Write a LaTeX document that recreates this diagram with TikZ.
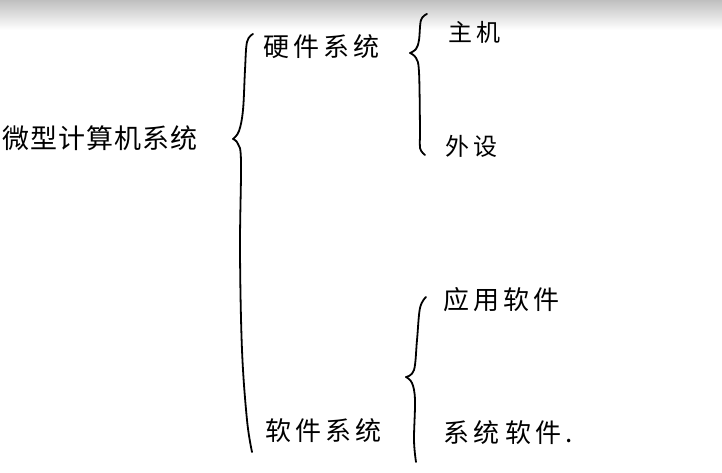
\documentclass[tikz,border=0pt]{standalone}
\usepackage{fontspec}
\newfontfamily\cjk[LetterSpace=16]{Noto Sans CJK SC}
\newfontfamily\cjkplain[LetterSpace=4]{Noto Sans CJK SC}
\begin{document}
\begin{tikzpicture}[x=1pt,y=-1pt,
  lbl/.style={font=\cjk\fontsize{26}{30}\selectfont, inner sep=0pt, anchor=west},
  brace/.style={line width=1.8pt, line cap=round, line join=round}]
\useasboundingbox (0,0) rectangle (722,473);
\fill[white] (0,0) rectangle (722,473);
\shade[top color=black!25, bottom color=white] (0,0) rectangle (722,30);
% texts
\node[lbl, anchor=west, font=\cjkplain\fontsize{27}{32}\selectfont] (root) at (2,138) {微型计算机系统};
\node[lbl] (hw) at (263,47) {硬件系统};
\node[lbl] (sw) at (265,431) {软件系统};
\node[lbl, font=\cjk\fontsize{24}{28}\selectfont] (host) at (448,32) {主机};
\node[lbl, font=\cjk\fontsize{24}{28}\selectfont] (periph) at (445,146) {外设};
\node[lbl] (app) at (443,300) {应用软件};
\node[lbl] (sys) at (443,433) {系统\kern6pt 软件.};
% big brace
\draw[brace] plot[smooth, tension=0.6] coordinates {(253,34) (247,42) (245,70) (243,110) (239,131) (233,139)};
\draw[brace] plot[smooth, tension=0.6] coordinates {(233,139) (238,144) (241,162) (240,250) (242,350) (247,420) (252,452)};
% brace hardware
\draw[brace] plot[smooth, tension=0.6] coordinates {(427,14) (421,20) (419,40) (416,49) (410,53)};
\draw[brace] plot[smooth, tension=0.6] coordinates {(410,53) (416,58) (419,72) (420,130) (420,148) (425,155)};
% brace software
\draw[brace] plot[smooth, tension=0.6] coordinates {(426,297) (420,308) (417,340) (414,370) (406,377)};
\draw[brace] plot[smooth, tension=0.6] coordinates {(406,377) (412,383) (415,400) (414,440) (416,462)};
\end{tikzpicture}
\end{document}
